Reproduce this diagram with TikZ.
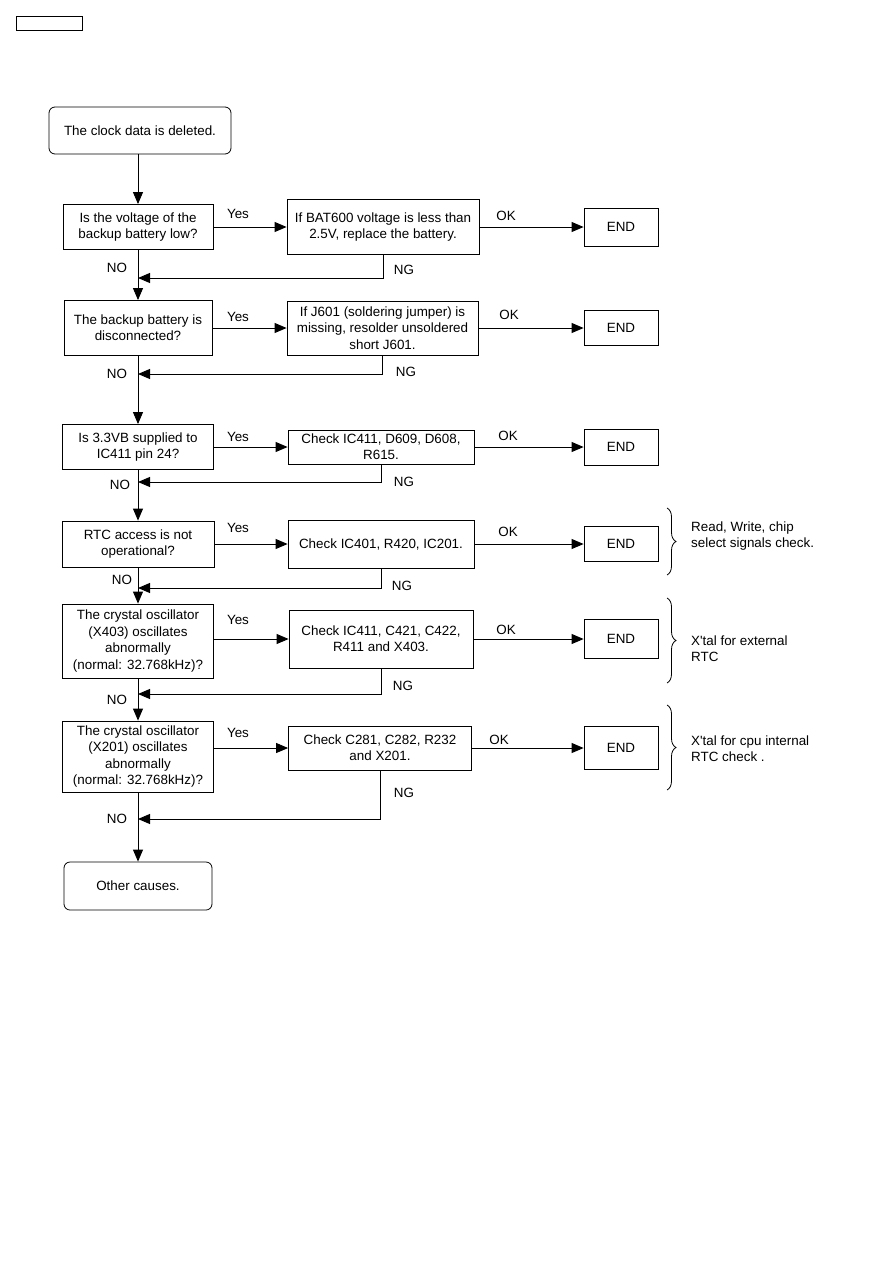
\documentclass[tikz,border=0pt]{standalone}
\usepackage{fontspec}
\setmainfont{Liberation Sans}
\usetikzlibrary{arrows.meta,decorations.pathreplacing}
\newcommand{\fs}{\fontsize{13.4}{16.4}\selectfont}
\begin{document}
\begin{tikzpicture}[x=1pt,y=-1pt,
  box/.style={draw, line width=0.8pt, align=center, inner sep=2pt, font=\fs},
  rbox/.style={box, rounded corners=6pt},
  endbox/.style={box, minimum width=74pt},
  lbl/.style={font=\fs, inner sep=0pt},
  note/.style={font=\fs, inner sep=0pt, align=left, anchor=west},
  arr/.style={-{Triangle[length=12pt,width=10pt]}, line width=0.9pt},
  brc/.style={decorate, decoration={brace, amplitude=9pt}, line width=0.8pt}]
\useasboundingbox (0,0) rectangle (893,1263);
\node[draw, line width=0.8pt, minimum width=66pt, minimum height=14pt, inner sep=0pt] (tag) at (49,23) {};
% start
\node[rbox, minimum width=182pt, minimum height=47pt] (start) at (140,130.5) {The clock data is deleted.};
% row 1
\node[box, minimum width=150pt, minimum height=45pt] (q1) at (138,227) {Is the voltage of the\\backup battery low?};
\node[box, minimum width=192pt, minimum height=55pt] (a1) at (383,227) {If BAT600 voltage is less than\\2.5V, replace the battery.};
\node[endbox, minimum height=38pt] (e1) at (621,227) {END};
% row 2
\node[box, minimum width=148pt, minimum height=55pt] (q2) at (138,328) {The backup battery is\\disconnected?};
\node[box, minimum width=191pt, minimum height=54pt, inner sep=1pt] (a2) at (382.5,328) {If J601 (soldering jumper) is\\missing, resolder unsoldered\\short J601.};
\node[endbox, minimum height=35pt] (e2) at (621,328) {END};
% row 3
\node[box, minimum width=151pt, minimum height=45pt] (q3) at (138,447) {Is 3.3VB supplied to\\IC411 pin 24?};
\node[box, minimum width=186pt, minimum height=34pt, inner sep=0.5pt] (a3) at (381,447) {Check IC411, D609, D608,\\R615.};
\node[endbox, minimum height=36pt] (e3) at (621,447) {END};
% row 4
\node[box, minimum width=152pt, minimum height=46pt] (q4) at (138,544) {RTC access is not\\operational?};
\node[box, minimum width=186pt, minimum height=48pt] (a4) at (381,544) {Check IC401, R420, IC201.};
\node[endbox, minimum height=35pt] (e4) at (621,544) {END};
% row 5
\node[box, minimum width=151pt, minimum height=74pt, inner sep=1pt] (q5) at (138,641) {The crystal oscillator\\(X403) oscillates\\abnormally\\(normal: 32.768kHz)?};
\node[box, minimum width=184pt, minimum height=58pt] (a5) at (381,639) {Check IC411, C421, C422,\\R411 and X403.};
\node[endbox, minimum height=39pt] (e5) at (621,639) {END};
% row 6
\node[box, minimum width=151pt, minimum height=71pt, inner sep=1pt] (q6) at (138,756.5) {The crystal oscillator\\(X201) oscillates\\abnormally\\(normal: 32.768kHz)?};
\node[box, minimum width=183pt, minimum height=44pt] (a6) at (380,748) {Check C281, C282, R232\\and X201.};
\node[endbox, minimum height=43pt] (e6) at (621,748) {END};
% end
\node[rbox, minimum width=148pt, minimum height=48pt] (other) at (138,886) {Other causes.};
% junctions
\coordinate (j1) at (138,278);
\coordinate (j2) at (138,374);
\coordinate (j3) at (138,482);
\coordinate (j4) at (138,588);
\coordinate (j5) at (138,694);
\coordinate (j6) at (138,819);
% main line
\draw[arr] (q1.north |- start.south) -- (q1.north);
\draw[arr] (q1.south) -- (q2.north);
\draw[arr] (q2.south) -- (q3.north);
\draw[arr] (q3.south) -- (q4.north);
\draw[arr] (q4.south) -- (q5.north);
\draw[arr] (q5.south) -- (q6.north);
\draw[arr] (q6.south) -- (other.north);
% yes / ok arrows
\draw[arr] (q1.east) -- (a1.west);
\draw[arr] (a1.east) -- (e1.west);
\draw[arr] (q2.east) -- (a2.west);
\draw[arr] (a2.east) -- (e2.west);
\draw[arr] (q3.east) -- (a3.west);
\draw[arr] (a3.east) -- (e3.west);
\draw[arr] (q4.east) -- (a4.west);
\draw[arr] (a4.east) -- (e4.west);
\draw[arr] (a5.west -| q5.east) -- (a5.west);
\draw[arr] (a5.east) -- (e5.west);
\draw[arr] (a6.west -| q6.east) -- (a6.west);
\draw[arr] (a6.east) -- (e6.west);
% NG arrows
\draw[arr] (a1.south) |- (j1);
\draw[arr] (a2.south) |- (j2);
\draw[arr] (a3.south) |- (j3);
\draw[arr] (a4.south) |- (j4);
\draw[arr] (a5.south) |- (j5);
\draw[arr] (a6.south) |- (j6);
% labels
\node[lbl] (y1) at (238,214) {Yes};
\node[lbl] (o1) at (506,216) {OK};
\node[lbl] (g1) at (404,270) {NG};
\node[lbl] (n1) at (117,268) {NO};
\node[lbl] (y2) at (238,317) {Yes};
\node[lbl] (o2) at (509,315) {OK};
\node[lbl] (g2) at (406,372) {NG};
\node[lbl] (n2) at (117,374) {NO};
\node[lbl] (y3) at (238,437) {Yes};
\node[lbl] (o3) at (508,436) {OK};
\node[lbl] (g3) at (404,482) {NG};
\node[lbl] (n3) at (120,485) {NO};
\node[lbl] (y4) at (238,528) {Yes};
\node[lbl] (o4) at (508,532) {OK};
\node[lbl] (g4) at (402,586) {NG};
\node[lbl] (n4) at (122,580) {NO};
\node[lbl] (y5) at (238,620) {Yes};
\node[lbl] (o5) at (506,630) {OK};
\node[lbl] (g5) at (403,686) {NG};
\node[lbl] (n5) at (117,700) {NO};
\node[lbl] (y6) at (238,733) {Yes};
\node[lbl] (o6) at (499,740) {OK};
\node[lbl] (g6) at (404,793) {NG};
\node[lbl] (n6) at (117,819) {NO};
% braces and notes
\draw[brc] (667,508) -- (667,575);
\node[note] (t1) at (691,536) {Read, Write, chip\\select signals check.};
\draw[brc] (667,598) -- (667,683);
\node[note] (t2) at (691,649) {X\textquotesingle tal for external\\RTC};
\draw[brc] (667,705) -- (667,790);
\node[note] (t3) at (691,749) {X\textquotesingle tal for cpu internal\\RTC check .};
\end{tikzpicture}
\end{document}
